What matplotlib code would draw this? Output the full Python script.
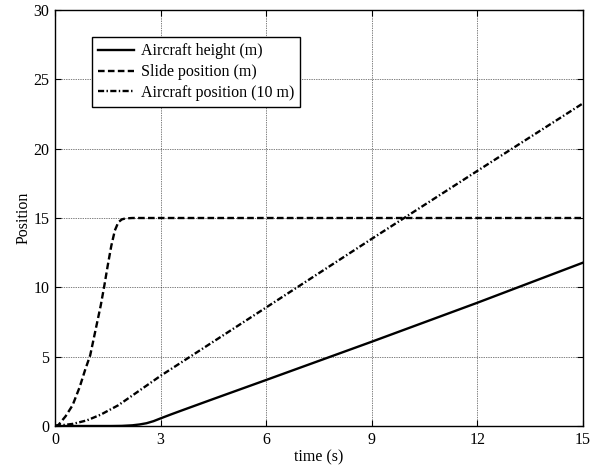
import matplotlib
matplotlib.use("Agg")
import matplotlib.pyplot as plt

# Data
t_height = [0, 1.6, 1.9, 2.2, 2.4, 2.6, 2.8, 3.0, 3.3, 3.6, 4.5, 6.0, 9.0, 12.0, 15.0]
aircraft_height = [0, 0, 0.01, 0.05, 0.11, 0.2, 0.35, 0.55, 0.84, 1.12, 1.95, 3.32, 6.08, 8.89, 11.78]

t_slide = [0, 0.1, 0.3, 0.5, 0.7, 0.85, 1.0, 1.15, 1.3, 1.4, 1.5, 1.6, 1.7, 1.8, 1.9, 2.0, 2.2, 15.0]
slide_position = [0, 0.08, 0.7, 1.5, 2.8, 4.0, 5.1, 6.9, 8.7, 10.1, 11.6, 13.0, 14.1, 14.7, 14.9, 14.97, 15.0, 15.0]

t_position = [0, 0.5, 0.9, 1.3, 1.8, 2.3, 3.0, 6.0, 9.0, 12.0, 15.0]
aircraft_position = [0, 0.15, 0.4, 0.82, 1.5, 2.38, 3.62, 8.55, 13.5, 18.4, 23.27]

labels = ["Aircraft height (m)", "Slide position (m)", "Aircraft position (10 m)"]
x_ticks = [0, 3, 6, 9, 12, 15]
y_ticks = [0, 5, 10, 15, 20, 25, 30]

plt.rcParams['font.family'] = ['Liberation Serif', 'DejaVu Serif']
plt.rcParams['font.size'] = 11.5

fig = plt.figure(figsize=(6.03, 4.73), dpi=100)
ax = fig.add_axes([55/603, 1 - 426/473, 528/603, 416/473])

lw = 1.7
ax.plot(t_height, aircraft_height, color='black', lw=lw, linestyle='-', label=labels[0])
ax.plot(t_slide, slide_position, color='black', lw=lw, linestyle=(0, (2.8, 1.4)), label=labels[1])
ax.plot(t_position, aircraft_position, color='black', lw=lw, linestyle=(0, (2.6, 1.0, 0.6, 1.0)), label=labels[2])

ax.set_xlim(0, 15)
ax.set_ylim(0, 30)
ax.set_xticks(x_ticks)
ax.set_yticks(y_ticks)
ax.grid(True, color='black', linestyle=(0, (1, 1.5)), linewidth=0.5)
ax.tick_params(direction='in', top=True, right=True, length=4, width=0.8, pad=4)
for s in ax.spines.values():
    s.set_linewidth(1.0)

ax.set_xlabel("time (s)", labelpad=1)
ax.set_ylabel("Position", labelpad=1)

leg = ax.legend(loc='upper left', bbox_to_anchor=((92 - 55) / 528, (426 - 37) / 416),
                borderaxespad=0, fancybox=False, framealpha=1, edgecolor='black',
                handlelength=2.2, handletextpad=0.45, labelspacing=0.3, borderpad=0.4)
leg.get_frame().set_linewidth(1.0)

fig.savefig("out.png", dpi=100)
